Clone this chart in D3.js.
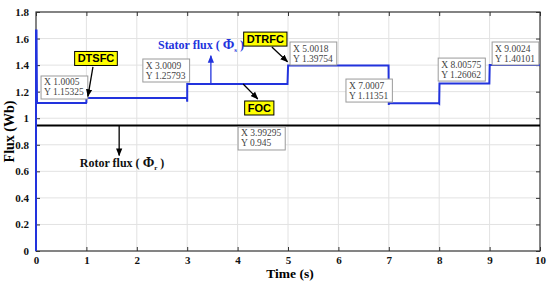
<!DOCTYPE html>
<html>
<head>
<meta charset="utf-8">
<script src="https://cdn.jsdelivr.net/npm/d3@7"></script>
<style>
  body { margin: 0; background: #fff; }
  .tick text { font-family: "Liberation Serif", serif; font-weight: bold; font-size: 11px; fill: #111; }
</style>
</head>
<body>
<div id="chart"></div>
<script>
// stator flux trace (time s, flux Wb)
var statorT = [0, 0, 0.01, 0.02, 0.995, 1.0, 1.0005, 1.002, 2.995, 3.0, 3.0009, 4.99, 5.0018, 6.995, 7.0, 7.0007, 7.99, 8.0, 8.00575, 8.995, 9.0024, 10];
var statorV = [0, 1.66, 1.66, 1.115, 1.115, 1.12, 1.15325, 1.153, 1.153, 1.125, 1.25793, 1.258, 1.39754, 1.3975, 1.10, 1.11351, 1.1135, 1.11, 1.26062, 1.2606, 1.40101, 1.401];
// rotor flux trace
var rotorT = [0, 0, 0.02, 10];
var rotorV = [0, 0.945, 0.945, 0.945];

var xTicks = [0, 1, 2, 3, 4, 5, 6, 7, 8, 9, 10];
var yTicks = [0, 0.2, 0.4, 0.6, 0.8, 1, 1.2, 1.4, 1.6, 1.8];

// data tips: top-left corner in data units
var tipX = ['1.0005', '3.0009', '3.99295', '5.0018', '7.0007', '8.00575', '9.0024'];
var tipY = ['1.15325', '1.25793', '0.945', '1.39754', '1.11351', '1.26062', '1.40101'];
var tipAtT = [0.1, 2.12, 4.01, 5.04, 6.15, 7.98, 9.05];
var tipAtV = [1.318, 1.446, 0.934, 1.574, 1.295, 1.453, 1.574];

// yellow method labels (centre in data units)
var methods = ['DTSFC', 'DTRFC', 'FOC'];
var methodT = [1.19, 4.55, 4.43];
var methodV = [1.45, 1.596, 1.077];

var w = 550, h = 284;
var margin = {top: 12, right: 10, bottom: 33, left: 36};

var x = d3.scaleLinear().domain([0, 10]).range([margin.left, w - margin.right]);
var y = d3.scaleLinear().domain([0, 1.8]).range([h - margin.bottom, margin.top]);

var svg = d3.select('#chart').append('svg')
  .attr('width', w).attr('height', h);

var defs = svg.append('defs');
function marker(id, color) {
  defs.append('marker').attr('id', id)
    .attr('viewBox', '0 0 10 10').attr('refX', 9).attr('refY', 5)
    .attr('markerWidth', 6).attr('markerHeight', 6)
    .attr('orient', 'auto-start-reverse')
    .append('path').attr('d', 'M0,1 L10,5 L0,9 z').attr('fill', color);
}
marker('arrK', '#000');
marker('arrB', '#2233dd');

// grid
svg.append('g').selectAll('line').data(xTicks.slice(1, -1)).enter().append('line')
  .attr('x1', function(d) { return x(d); }).attr('x2', function(d) { return x(d); })
  .attr('y1', y(0)).attr('y2', y(1.8))
  .attr('stroke', '#e2e2e2').attr('stroke-width', 1);
svg.append('g').selectAll('line').data(yTicks.slice(1, -1)).enter().append('line')
  .attr('y1', function(d) { return y(d); }).attr('y2', function(d) { return y(d); })
  .attr('x1', x(0)).attr('x2', x(10))
  .attr('stroke', '#e2e2e2').attr('stroke-width', 1);

// axes (ticks inside, MATLAB style)
svg.append('g').attr('transform', 'translate(0,' + y(0) + ')')
  .call(d3.axisBottom(x).tickValues(xTicks).tickSize(-4).tickPadding(5).tickFormat(d3.format('d')))
  .call(function(g) { g.select('.domain').remove(); });
svg.append('g').attr('transform', 'translate(' + x(0) + ',0)')
  .call(d3.axisLeft(y).tickValues(yTicks).tickSize(-4).tickPadding(7).tickFormat(function(d) { return d; }))
  .call(function(g) { g.select('.domain').remove(); });
svg.append('g').attr('transform', 'translate(0,' + y(1.8) + ')')
  .call(d3.axisTop(x).tickValues(xTicks).tickSize(-4).tickFormat(''))
  .call(function(g) { g.select('.domain').remove(); });
svg.append('g').attr('transform', 'translate(' + x(10) + ',0)')
  .call(d3.axisRight(y).tickValues(yTicks).tickSize(-4).tickFormat(''))
  .call(function(g) { g.select('.domain').remove(); });
svg.selectAll('.tick line').attr('stroke', '#333');

svg.append('rect')
  .attr('x', x(0)).attr('y', y(1.8))
  .attr('width', x(10) - x(0)).attr('height', y(0) - y(1.8))
  .attr('fill', 'none').attr('stroke', '#333').attr('stroke-width', 1.2);

// traces
var line = d3.line().x(function(d) { return x(d[0]); }).y(function(d) { return y(d[1]); });
svg.append('path').datum(d3.zip(rotorT, rotorV))
  .attr('d', line).attr('fill', 'none').attr('stroke', '#000').attr('stroke-width', 2);
svg.append('path').datum(d3.zip(statorT, statorV))
  .attr('d', line).attr('fill', 'none').attr('stroke', '#2233dd').attr('stroke-width', 2);

// axis titles
svg.append('text').attr('x', 290).attr('y', 278)
  .attr('text-anchor', 'middle').attr('font-family', 'Liberation Serif, serif')
  .attr('font-weight', 'bold').attr('font-size', '13.5px').text('Time (s)');
svg.append('text').attr('transform', 'translate(14,' + y(0.9) + ') rotate(-90)')
  .attr('text-anchor', 'middle').attr('font-family', 'Liberation Serif, serif')
  .attr('font-weight', 'bold').attr('font-size', '14px').text('Flux (Wb)');

// data tips
tipX.forEach(function(tx, i) {
  var g = svg.append('g').attr('transform', 'translate(' + x(tipAtT[i]) + ',' + y(tipAtV[i]) + ')');
  var r = g.append('rect').attr('fill', '#fff').attr('stroke', '#9a9a9a').attr('stroke-width', 1);
  var t1 = g.append('text').attr('x', 3).attr('y', 9.5).text('X ' + tx);
  var t2 = g.append('text').attr('x', 3).attr('y', 19.5).text('Y ' + tipY[i]);
  g.selectAll('text').attr('font-family', 'Liberation Serif, serif').attr('font-size', '9.5px').attr('fill', '#444');
  var tw = Math.max(t1.node().getComputedTextLength(), t2.node().getComputedTextLength());
  r.attr('width', tw + 7).attr('height', 23);
});

// arrows
function arrow(t0, v0, t1, v1, color, id) {
  svg.append('line')
    .attr('x1', x(t0)).attr('y1', y(v0)).attr('x2', x(t1)).attr('y2', y(v1))
    .attr('stroke', color).attr('stroke-width', 1.3).attr('marker-end', 'url(#' + id + ')');
}
arrow(1.13, 1.386, 1.03, 1.165, '#000', 'arrK');
arrow(4.68, 1.536, 4.99, 1.425, '#000', 'arrK');
arrow(4.11, 1.258, 4.40, 1.145, '#000', 'arrK');
arrow(3.47, 1.265, 3.47, 1.47, '#2233dd', 'arrB');
arrow(1.65, 0.945, 1.65, 0.72, '#000', 'arrK');

// method labels
methods.forEach(function(m, i) {
  var g = svg.append('g').attr('transform', 'translate(' + x(methodT[i]) + ',' + y(methodV[i]) + ')');
  var r = g.append('rect').attr('fill', '#ffff00').attr('stroke', '#000').attr('stroke-width', 1);
  var t = g.append('text').attr('text-anchor', 'middle').attr('y', 4)
    .attr('font-family', 'Liberation Sans, Arial, sans-serif').attr('font-weight', 'bold')
    .attr('font-size', '11px').text(m);
  var tw = t.node().getComputedTextLength();
  r.attr('x', -tw / 2 - 3).attr('y', -7).attr('width', tw + 6).attr('height', 14);
});

// flux labels
function fluxLabel(t, v, name, sub, color) {
  var txt = svg.append('text').attr('x', x(t)).attr('y', y(v))
    .attr('font-family', 'Liberation Serif, serif').attr('font-weight', 'bold')
    .attr('font-size', '12px').attr('fill', color);
  txt.append('tspan').text(name + ' ( ');
  txt.append('tspan').attr('font-size', '14px').text('Φ');
  txt.append('tspan').attr('font-size', '7px').attr('dy', 3).text(sub);
  txt.append('tspan').attr('dy', -3).text(' )');
}
fluxLabel(2.42, 1.521, 'Stator flux', 's', '#2233dd');
fluxLabel(0.87, 0.633, 'Rotor flux', 'r', '#111');
</script>
</body>
</html>
